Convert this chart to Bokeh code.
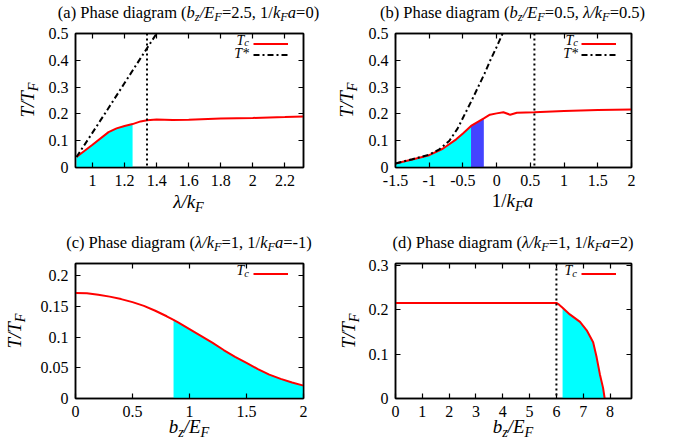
import numpy as np
from bokeh.plotting import figure
from bokeh.layouts import gridplot, column
from bokeh.models import Range1d, Span, Legend, LegendItem, FixedTicker, LinearAxis, Div
from bokeh.embed import file_html
from bokeh.resources import INLINE

FONT = "Liberation Serif"
CYAN = "#00ffff"
BLUE = "#4444ff"
RED = "#ff0000"

# ---------------- data: panel (a)  x = lambda/kF
lam_a = [0.9, 1.0, 1.1, 1.15, 1.2, 1.25, 1.3, 1.34, 1.4, 1.5, 1.6, 1.8, 2.0, 2.2, 2.32]
tc_a = [0.039, 0.085, 0.132, 0.146, 0.155, 0.162, 0.172, 0.176, 0.179, 0.177, 0.178, 0.183, 0.185, 0.188, 0.19]
lam_star_a = [0.9, 1.0, 1.1, 1.2, 1.3, 1.4]
tstar_a = [0.039, 0.13, 0.222, 0.315, 0.408, 0.5]
fill_end_a = 1.25
dotted_a = 1.34

# ---------------- data: panel (b)  x = 1/kFa
inv_b = [-1.5, -1.25, -1.0, -0.8, -0.6, -0.5, -0.38, -0.19, -0.1, 0.0, 0.1, 0.2, 0.3, 0.56, 1.0, 1.5, 2.0]
tc_b = [0.015, 0.03, 0.046, 0.07, 0.105, 0.127, 0.155, 0.183, 0.197, 0.202, 0.206, 0.197, 0.204, 0.206, 0.211, 0.215, 0.216]
inv_star_b = [-1.5, -1.25, -1.0, -0.85, -0.7, -0.58, -0.47, -0.37, -0.275, -0.18, -0.094, 0.0, 0.09]
tstar_b = [0.015, 0.031, 0.048, 0.068, 0.1, 0.145, 0.2, 0.25, 0.3, 0.35, 0.4, 0.45, 0.5]
cyan_end_b = -0.38
blue_end_b = -0.19
dotted_b = 0.56

# ---------------- data: panel (c)  x = bz/EF
bz_c = [0.0, 0.1, 0.2, 0.3, 0.4, 0.5, 0.6, 0.7, 0.8, 0.86, 0.9, 1.0, 1.1, 1.2, 1.3, 1.4, 1.5, 1.6, 1.7, 1.8, 1.9, 2.0]
tc_c = [0.172, 0.1715, 0.169, 0.166, 0.162, 0.157, 0.151, 0.143, 0.134, 0.128, 0.124, 0.113, 0.102, 0.091,
        0.079, 0.068, 0.058, 0.048, 0.039, 0.032, 0.026, 0.021]
fill_start_c = 0.86

# ---------------- data: panel (d)  x = bz/EF
bz_d = [0, 1, 2, 3, 4, 5, 6.0, 6.1, 6.23, 6.5, 6.88, 7.13, 7.37, 7.5, 7.62, 7.74, 7.8]
tc_d = [0.216, 0.216, 0.216, 0.216, 0.216, 0.216, 0.216, 0.212, 0.205, 0.19, 0.173, 0.154, 0.127, 0.093, 0.055, 0.024, 0.0]
fill_start_d = 6.23
dotted_d = 6.0

# ticks
xt_a = [1.0, 1.2, 1.4, 1.6, 1.8, 2.0, 2.2]
xt_b = [-1.5, -1.0, -0.5, 0.0, 0.5, 1.0, 1.5, 2.0]
yt_ab = [0.0, 0.1, 0.2, 0.3, 0.4, 0.5]
xt_c = [0.0, 0.5, 1.0, 1.5, 2.0]
yt_c = [0.0, 0.05, 0.1, 0.15, 0.2]
xt_d = [0, 1, 2, 3, 4, 5, 6, 7, 8]
yt_d = [0.0, 0.1, 0.2, 0.3]


# ---------------- rich text helpers (HTML overlay, page coordinates)
def it(t):
    return "<i>%s</i>" % t


def sub(t, drop=0.3):
    return '<span style="font-size:75%%;position:relative;top:%.2fem">%s</span>' % (drop, t)


def place(html, x, y, size, anchor="center", rotate=False):
    tx = {"center": "-50%", "right": "-100%", "left": "0"}[anchor]
    tr = "translate(%s,-50%%)" % tx + (" rotate(-90deg)" if rotate else "")
    return ('<div style="position:absolute;left:%.1fpx;top:%.1fpx;transform:%s;'
            'font-size:%spx;line-height:1;white-space:nowrap;font-family:\'%s\';color:#000;">%s</div>'
            % (x, y, tr, size, FONT, html))


BZEF = it("b") + sub(it("z")) + it("/E") + sub(it("F"))
LAMK = it("λ/k") + sub(it("F"))
KFA = it("k") + sub(it("F")) + it("a")
TTF = it("T/T") + sub(it("F"))
TC = it("T") + sub(it("c"), 0.15)
TSTAR = it("T*")

title_a = "(a) Phase diagram (" + BZEF + "=2.5, 1/" + KFA + "=0)"
title_b = "(b) Phase diagram (" + BZEF + "=0.5, " + LAMK + "=0.5)"
title_c = "(c) Phase diagram (" + LAMK + "=1, 1/" + KFA + "=-1)"
title_d = "(d) Phase diagram (" + LAMK + "=1, 1/" + KFA + "=2)"


def base_fig(w, h, xr, yr, xt, yt, bl, br, bt, bb):
    p = figure(width=w, height=h, x_range=Range1d(*xr), y_range=Range1d(*yr),
               output_backend="svg", toolbar_location=None, title=None,
               min_border_left=bl, min_border_right=br, min_border_top=bt, min_border_bottom=bb,
               x_axis_type=None, y_axis_type=None)
    p.outline_line_color = "black"
    p.outline_line_width = 1.5
    p.outline_line_alpha = 1.0
    p.background_fill_color = "white"
    p.border_fill_color = "white"
    for loc, ticks in [("below", xt), ("left", yt), ("above", xt), ("right", yt)]:
        main = loc in ("below", "left")
        ax = LinearAxis(ticker=FixedTicker(ticks=ticks, minor_ticks=[]))
        ax.major_tick_in = 5
        ax.major_tick_out = 0
        ax.major_tick_line_width = 1.2
        ax.major_tick_line_color = "black"
        ax.minor_tick_line_color = None
        ax.axis_line_color = "black"
        ax.axis_line_width = 1.5
        if main:
            ax.major_label_overrides = {t: "%g" % t for t in ticks}
            ax.major_label_text_font = FONT
            ax.major_label_text_font_size = "16px"
            ax.major_label_text_color = "black"
            ax.major_label_standoff = 7
        else:
            ax.major_label_overrides = {t: "" for t in ticks}
            ax.major_label_text_font_size = "1px"
            ax.major_label_standoff = 0
        p.add_layout(ax, loc)
    return p


def add_legend(p, rends):
    items = [LegendItem(label=" ", renderers=[r]) for r in rends]
    lg = Legend(items=items, location="top_right", margin=5, padding=0, spacing=0,
                glyph_width=35, glyph_height=11, label_width=10, label_height=11,
                label_standoff=0, label_text_font_size="1px",
                background_fill_alpha=0, border_line_alpha=0)
    p.add_layout(lg)


# ================= panel (a)
pa = base_fig(340, 220, (0.894, 2.316), (0, 0.5), xt_a, yt_ab, 74, 37, 33, 53)
xa = np.array(lam_a); ya = np.array(tc_a)
m = xa <= fill_end_a
pa.varea(x=xa[m], y1=0, y2=ya[m], fill_color=CYAN, fill_alpha=1)
pa.add_layout(Span(location=dotted_a, dimension="height", line_color="black", line_width=2, line_dash="2 3"))
ra1 = pa.line(lam_a, tc_a, line_color=RED, line_width=2)
ra2 = pa.line(lam_star_a, tstar_a, line_color="black", line_width=2, line_dash="6 3 2 3")
add_legend(pa, [ra1, ra2])

# ================= panel (b)
pb = base_fig(300, 220, (-1.5, 2.0), (0, 0.5), xt_b, yt_ab, 53, 8, 33, 53)
xb = np.array(inv_b); yb = np.array(tc_b)
m1 = xb <= cyan_end_b
m2 = (xb >= cyan_end_b) & (xb <= blue_end_b)
pb.varea(x=xb[m1], y1=0, y2=yb[m1], fill_color=CYAN, fill_alpha=1)
pb.varea(x=xb[m2], y1=0, y2=yb[m2], fill_color=BLUE, fill_alpha=1)
pb.add_layout(Span(location=dotted_b, dimension="height", line_color="black", line_width=2, line_dash="2 3"))
rb1 = pb.line(inv_b, tc_b, line_color=RED, line_width=2)
rb2 = pb.line(inv_star_b, tstar_b, line_color="black", line_width=2, line_dash="6 3 2 3")
add_legend(pb, [rb1, rb2])

# ================= panel (c)
pc = base_fig(340, 218, (0.0, 2.0), (0, 0.22), xt_c, yt_c, 75, 37, 43, 40)
xc = np.array(bz_c); yc = np.array(tc_c)
m = xc >= fill_start_c
pc.varea(x=xc[m], y1=0, y2=yc[m], fill_color=CYAN, fill_alpha=1)
rc1 = pc.line(bz_c, tc_c, line_color=RED, line_width=2)
add_legend(pc, [rc1])

# ================= panel (d)
pd_ = base_fig(300, 218, (0.0, 8.8), (0, 0.305), xt_d, yt_d, 55, 9, 43, 40)
xd = np.array(bz_d); yd = np.array(tc_d)
m = xd >= fill_start_d
pd_.varea(x=xd[m], y1=0, y2=yd[m], fill_color=CYAN, fill_alpha=1)
pd_.add_layout(Span(location=dotted_d, dimension="height", line_color="black", line_width=2, line_dash="2 3"))
rd1 = pd_.line(bz_d, tc_d, line_color=RED, line_width=2)
add_legend(pd_, [rd1])

# ================= text overlay (page coordinates)
texts = [
    place(title_a, 188.5, 12.5, 16.5), place(title_b, 512.5, 12.5, 16.5),
    place(title_c, 189, 242.5, 16.5), place(title_d, 513, 242.5, 16.5),
    place(LAMK, 188.5, 201, 19), place("1/" + KFA, 512.5, 200, 19),
    place(BZEF, 189, 426, 19), place(BZEF, 513, 426, 19),
    place(TTF, 27, 100, 19, rotate=True), place(TTF, 346, 100, 19, rotate=True),
    place(TTF, 14, 330.5, 19, rotate=True), place(TTF, 348, 330.5, 19, rotate=True),
    place(TC, 249, 40.5, 14, anchor="right"), place(TSTAR, 249, 54, 14, anchor="right"),
    place(TC, 578, 40.5, 14, anchor="right"), place(TSTAR, 578, 54, 14, anchor="right"),
    place(TC, 249, 271, 14, anchor="right"), place(TC, 577, 271, 14, anchor="right"),
]
overlay = Div(text="".join(texts), width=640, height=0, margin=0,
              styles={"position": "relative", "overflow": "visible", "z-index": "10"})

grid = gridplot([[pa, pb], [pc, pd_]], toolbar_location=None)
layout = column(overlay, grid, spacing=0)
open("out.html", "w").write(file_html(layout, INLINE))
